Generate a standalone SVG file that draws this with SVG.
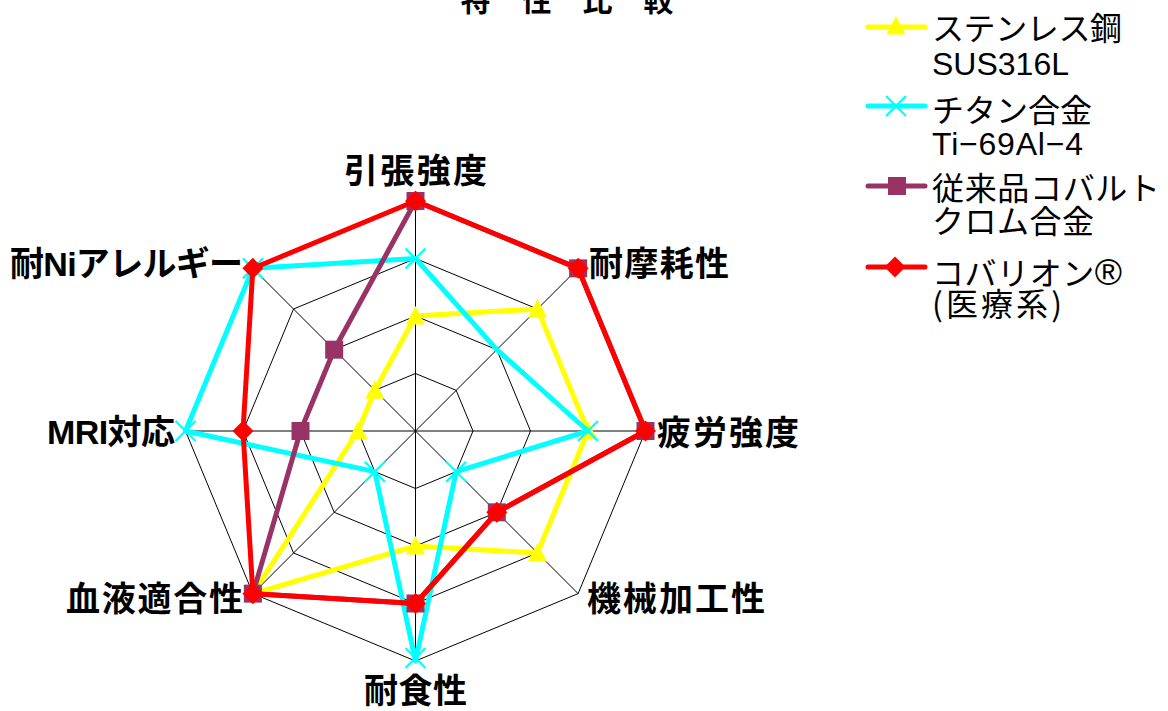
<svg xmlns="http://www.w3.org/2000/svg" xmlns:xlink="http://www.w3.org/1999/xlink" width="1168" height="711" viewBox="0 0 1168 711">
<style>
.grid{fill:none;stroke:#000;stroke-width:1}
.ser{fill:none;stroke-width:5;stroke-linejoin:round;stroke-linecap:round}
.yl{stroke:#FFFF00}.cy{stroke:#00FFFF}.pu{stroke:#993366}.rd{stroke:#FF0000}
.lbl{font-family:"Liberation Sans","Noto Sans CJK JP",sans-serif;font-weight:bold;font-size:34px;fill:#000}
.leg{font-family:"Liberation Sans","Noto Sans CJK JP",sans-serif;font-size:32px;fill:#000}
.ttl{font-family:"Liberation Sans","Noto Sans CJK JP",sans-serif;font-weight:bold;font-size:30px;fill:#000}
</style>
<defs>
<polygon id="tri" points="0,-10 9.5,8.5 -9.5,8.5" fill="#FFFF00"/>
<path id="xm" d="M-10,-10L10,10M-10,10L10,-10" stroke="#00FFFF" stroke-width="2.2" fill="none"/>
<rect id="sq" x="-9" y="-9" width="18" height="18" fill="#993366"/>
<polygon id="dia" points="0,-10.5 10.5,0 0,10.5 -10.5,0" fill="#FF0000"/>
</defs>
<rect width="1168" height="711" fill="#fff"/>
<text class="ttl" x="567" y="10.5" text-anchor="middle" textLength="213" lengthAdjust="spacing">特 性 比 較</text>
<g id="grid">
<polygon class="grid" points="415.5,373.5 456.16,390.34 473,431 456.16,471.66 415.5,488.5 374.84,471.66 358,431 374.84,390.34"/>
<polygon class="grid" points="415.5,316 496.82,349.68 530.5,431 496.82,512.32 415.5,546 334.18,512.32 300.5,431 334.18,349.68"/>
<polygon class="grid" points="415.5,258.5 537.48,309.02 588,431 537.48,552.98 415.5,603.5 293.52,552.98 243,431 293.52,309.02"/>
<polygon class="grid" points="415.5,201 578.13,268.37 645.5,431 578.13,593.63 415.5,661 252.87,593.63 185.5,431 252.87,268.37"/>
<path class="grid" d="M415.5,431L415.5,201M415.5,431L578.13,268.37M415.5,431L645.5,431M415.5,431L578.13,593.63M415.5,431L415.5,661M415.5,431L252.87,593.63M415.5,431L185.5,431M415.5,431L252.87,268.37"/>
</g>
<g id="connectors">
<g id="series-stainless">
<polygon class="ser yl" points="415.5,316 537.48,309.02 588,431 537.48,552.98 415.5,546 252.87,593.63 358,431 374.84,390.34"/>
<use href="#tri" x="415.5" y="316"/><use href="#tri" x="537.48" y="309.02"/><use href="#tri" x="588" y="431"/><use href="#tri" x="537.48" y="552.98"/><use href="#tri" x="415.5" y="546"/><use href="#tri" x="252.87" y="593.63"/><use href="#tri" x="358" y="431"/><use href="#tri" x="374.84" y="390.34"/>
</g>
<g id="series-titanium">
<polygon class="ser cy" points="415.5,258.5 496.82,349.68 588,431 456.16,471.66 415.5,661 374.84,471.66 185.5,431 252.87,268.37"/>
<use href="#xm" x="415.5" y="258.5"/><use href="#xm" x="588" y="431"/><use href="#xm" x="456.16" y="471.66"/><use href="#xm" x="415.5" y="658"/><use href="#xm" x="374.84" y="471.66"/><use href="#xm" x="185.5" y="431"/><use href="#xm" x="252.87" y="268.37"/>
</g>
<g id="series-cocr">
<polygon class="ser pu" points="415.5,201 578.13,268.37 645.5,431 496.82,512.32 415.5,603.5 252.87,593.63 300.5,431 334.18,349.68"/>
<use href="#sq" x="415.5" y="201"/><use href="#sq" x="578.13" y="268.37"/><use href="#sq" x="645.5" y="431"/><use href="#sq" x="496.82" y="512.32"/><use href="#sq" x="415.5" y="603.5"/><use href="#sq" x="252.87" y="593.63"/><use href="#sq" x="300.5" y="431"/><use href="#sq" x="334.18" y="349.68"/>
</g>
<g id="series-cobalion">
<polygon class="ser rd" points="415.5,201 578.13,268.37 645.5,431 496.82,512.32 415.5,603.5 252.87,593.63 243,431 252.87,268.37"/>
<use href="#dia" x="415.5" y="201"/><use href="#dia" x="578.13" y="268.37"/><use href="#dia" x="645.5" y="431"/><use href="#dia" x="496.82" y="512.32"/><use href="#dia" x="415.5" y="603.5"/><use href="#dia" x="252.87" y="593.63"/><use href="#dia" x="243" y="431"/><use href="#dia" x="252.87" y="268.37"/>
</g>
</g>
<g id="axis-labels">
<text id="lbl-tensile" class="lbl" x="415.5" y="183" text-anchor="middle" textLength="143" lengthAdjust="spacing">引張強度</text>
<text id="lbl-wear" class="lbl" x="589" y="276" textLength="140" lengthAdjust="spacing">耐摩耗性</text>
<text id="lbl-fatigue" class="lbl" x="657" y="445" textLength="142" lengthAdjust="spacing">疲労強度</text>
<text id="lbl-machining" class="lbl" x="587" y="611" textLength="178" lengthAdjust="spacing">機械加工性</text>
<text id="lbl-corrosion" class="lbl" x="415.5" y="703" text-anchor="middle" textLength="103" lengthAdjust="spacing">耐食性</text>
<text id="lbl-blood" class="lbl" x="243" y="611" text-anchor="end" textLength="177" lengthAdjust="spacing">血液適合性</text>
<text id="lbl-mri" class="lbl" x="175" y="444" text-anchor="end" textLength="128" lengthAdjust="spacing">MRI対応</text>
<text id="lbl-ni" class="lbl" x="243" y="276" text-anchor="end" textLength="233" lengthAdjust="spacing">耐Niアレルギー</text>
</g>
<g id="legend">
<g id="leg-stainless">
<line x1="868" y1="27" x2="925" y2="27" class="ser yl" stroke-linecap="butt"/>
<use href="#tri" x="896" y="26"/>
<text class="leg" x="932" y="40" textLength="190" lengthAdjust="spacing">ステンレス鋼</text>
<text class="leg" x="932" y="75" textLength="137" lengthAdjust="spacing">SUS316L</text>
</g>
<g id="leg-titanium">
<line x1="868" y1="106" x2="925" y2="106" class="ser cy" stroke-linecap="butt"/>
<use href="#xm" x="896" y="106"/>
<text class="leg" x="932" y="122" textLength="160" lengthAdjust="spacing">チタン合金</text>
<text class="leg" x="932" y="155" textLength="151" lengthAdjust="spacing">Ti−69Al−4</text>
</g>
<g id="leg-cocr">
<line x1="868" y1="186" x2="925" y2="186" class="ser pu" stroke-linecap="butt"/>
<use href="#sq" x="897" y="186"/>
<text class="leg" x="932" y="200" textLength="228" lengthAdjust="spacing">従来品コバルト</text>
<text class="leg" x="932" y="233" textLength="162" lengthAdjust="spacing">クロム合金</text>
</g>
<g id="leg-cobalion">
<line x1="868" y1="267" x2="925" y2="267" class="ser rd" stroke-linecap="butt"/>
<use href="#dia" x="895" y="267"/>
<text class="leg" x="932" y="285" textLength="190" lengthAdjust="spacing">コバリオン<tspan font-size="37">®</tspan></text>
<text class="leg" x="932" y="316" textLength="130" lengthAdjust="spacing" style="font-family:'Noto Sans CJK JP',sans-serif">(医療系)</text>
</g>
</g>
</svg>
